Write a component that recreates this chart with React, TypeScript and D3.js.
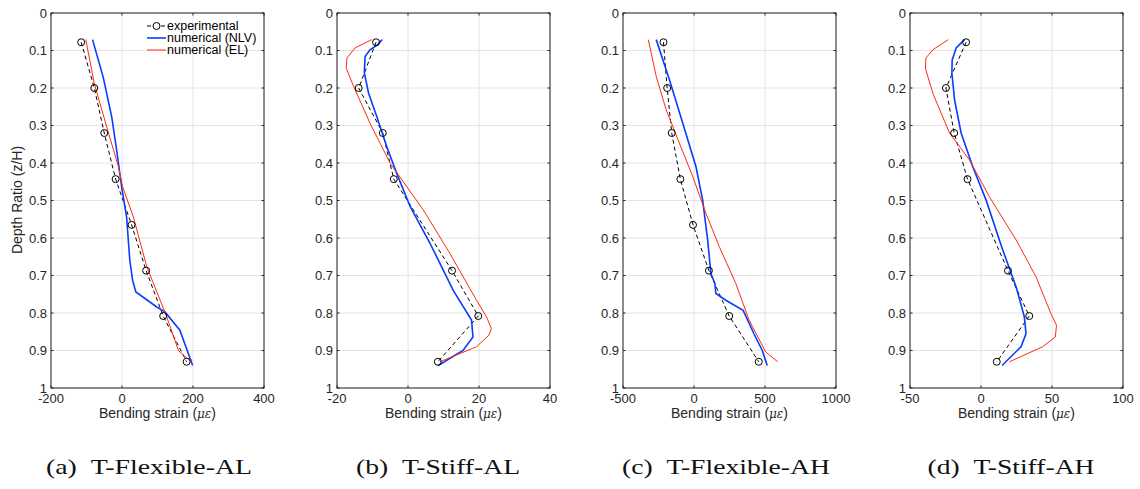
import React from "react";
import * as d3 from "d3";

// depth ratios of the strain gauges
const expDepth = [0.078, 0.2, 0.32, 0.443, 0.565, 0.687, 0.808, 0.93];
const expDepth7 = [0.078, 0.2, 0.32, 0.443, 0.687, 0.808, 0.93];

// (a) T-Flexible-AL
const expA = [-115, -78, -50, -18, 27, 68, 116, 182];
const nlvDepthA = [0.071, 0.171, 0.277, 0.366, 0.464, 0.544, 0.66, 0.713, 0.744, 0.784, 0.797, 0.846, 0.94];
const nlvA = [-83, -53, -29, -15, -1, 13, 22, 30, 39, 98, 121, 163, 199];
const elDepthA = [0.071, 0.188, 0.304, 0.41, 0.464, 0.544, 0.677, 0.81, 0.9, 0.92, 0.926];
const elA = [-102, -78, -43, -10, 2, 32, 70, 126, 159, 182, 198];

// (b) T-Stiff-AL
const expB = [-9.0, -13.9, -7.1, -4.0, 12.4, 19.8, 8.4];
const nlvDepthB = [0.071, 0.085, 0.098, 0.116, 0.16, 0.214, 0.276, 0.356, 0.427, 0.516, 0.614, 0.739, 0.819, 0.864, 0.9, 0.94];
const nlvB = [-7.3, -8.6, -10.7, -12.1, -12.3, -11.1, -8.8, -6.0, -3.2, 0.6, 6.2, 12.7, 17.9, 18.3, 15.5, 8.5];
const elDepthB = [0.071, 0.093, 0.12, 0.147, 0.196, 0.294, 0.401, 0.525, 0.641, 0.766, 0.81, 0.842, 0.859, 0.89, 0.93];
const elB = [-10.2, -14.9, -17.2, -17.4, -15.3, -10.7, -5.0, 4.3, 11.8, 19.3, 22.1, 23.5, 22.8, 19.3, 9.0];

// (c) T-Flexible-AH
const expC = [-215, -189, -157, -96, -7, 105, 248, 456];
const nlvDepthC = [0.071, 0.178, 0.294, 0.41, 0.499, 0.605, 0.695, 0.721, 0.748, 0.766, 0.793, 0.856, 0.9, 0.94];
const nlvC = [-266, -173, -79, 14, 61, 96, 119, 147, 154, 224, 346, 423, 481, 516];
const elDepthC = [0.071, 0.169, 0.258, 0.347, 0.436, 0.534, 0.623, 0.721, 0.819, 0.904, 0.93];
const elC = [-322, -266, -196, -103, -9, 84, 178, 294, 388, 505, 589];

// (d) T-Stiff-AH
const expD = [-10.5, -24.7, -18.9, -9.5, 19, 34, 11.1];
const nlvDepthD = [0.071, 0.093, 0.125, 0.16, 0.232, 0.32, 0.41, 0.499, 0.632, 0.73, 0.81, 0.855, 0.89, 0.94];
const nlvD = [-11.6, -17.5, -20.3, -20.5, -18.6, -14, -5.8, 3.6, 15.3, 24.7, 30.5, 31.7, 28.2, 14.8];
const elDepthD = [0.071, 0.098, 0.12, 0.147, 0.214, 0.32, 0.392, 0.49, 0.605, 0.703, 0.801, 0.833, 0.864, 0.89, 0.93];
const elD = [-23.1, -33.9, -38.8, -39.2, -33.9, -22.2, -8.1, 5.9, 24.7, 38.7, 49.2, 53.2, 52.3, 43.4, 20];

const xDomains = [[-200, 400], [-20, 40], [-500, 1000], [-50, 100]];
const xTicks = [[-200, 0, 200, 400], [-20, 0, 20, 40], [-500, 0, 500, 1000], [-50, 0, 50, 100]];
const yTicks = [0, 0.1, 0.2, 0.3, 0.4, 0.5, 0.6, 0.7, 0.8, 0.9, 1];
const captions = ["(a)\u2002T-Flexible-AL", "(b)\u2002T-Stiff-AL", "(c)\u2002T-Flexible-AH", "(d)\u2002T-Stiff-AH"];
const legendLabels = ["experimental", "numerical (NLV)", "numerical (EL)"];

const panelLeft = [51, 337, 623, 910];
const panelW = 213;
const top = 13;
const bottom = 388;
const captionX = [149, 438, 726, 1011];
const captionW = [206, 164, 208, 167];

const BLUE = "#0a3cff";
const RED = "#ff2a10";
const AXIS = "#262626";
const GRID = "#e4e4e4";

const zip = (xs: number[], ys: number[]) => xs.map((x, i) => [x, ys[i]] as [number, number]);

const panels = [
  { exp: zip(expA, expDepth), nlv: zip(nlvA, nlvDepthA), el: zip(elA, elDepthA) },
  { exp: zip(expB, expDepth7), nlv: zip(nlvB, nlvDepthB), el: zip(elB, elDepthB) },
  { exp: zip(expC, expDepth), nlv: zip(nlvC, nlvDepthC), el: zip(elC, elDepthC) },
  { exp: zip(expD, expDepth7), nlv: zip(nlvD, nlvDepthD), el: zip(elD, elDepthD) },
];

const y = d3.scaleLinear().domain([0, 1]).range([top, bottom]);

function Panel({ idx }: { idx: number }) {
  const x0 = panelLeft[idx];
  const x = d3.scaleLinear().domain(xDomains[idx]).range([x0, x0 + panelW]);
  const line = d3
    .line<[number, number]>()
    .x((d) => x(d[0]))
    .y((d) => y(d[1]));
  const p = panels[idx];
  const font = "'Liberation Sans', Arial, sans-serif";
  return (
    <g>
      {/* grid */}
      {xTicks[idx].map((t) => (
        <line key={"gx" + t} x1={x(t)} x2={x(t)} y1={top} y2={bottom} stroke={GRID} strokeWidth={1} />
      ))}
      {yTicks.map((t) => (
        <line key={"gy" + t} x1={x0} x2={x0 + panelW} y1={y(t)} y2={y(t)} stroke={GRID} strokeWidth={1} />
      ))}
      {/* series */}
      <path d={line(p.exp) || ""} fill="none" stroke="#000" strokeWidth={1} strokeDasharray="4,3" />
      <path d={line(p.nlv) || ""} fill="none" stroke={BLUE} strokeWidth={1.6} />
      <path d={line(p.el) || ""} fill="none" stroke={RED} strokeWidth={1} />
      {p.exp.map((d, i) => (
        <circle key={"c" + i} cx={x(d[0])} cy={y(d[1])} r={3.5} fill="none" stroke="#000" strokeWidth={1} />
      ))}
      {/* box */}
      <rect x={x0} y={top} width={panelW} height={bottom - top} fill="none" stroke={AXIS} strokeWidth={1} />
      {xTicks[idx].map((t) => (
        <g key={"tx" + t}>
          <line x1={x(t)} x2={x(t)} y1={bottom} y2={bottom - 2.5} stroke={AXIS} />
          <line x1={x(t)} x2={x(t)} y1={top} y2={top + 2.5} stroke={AXIS} />
          <text x={x(t)} y={403} textAnchor="middle" fontFamily={font} fontSize={13} fill={AXIS}>
            {t}
          </text>
        </g>
      ))}
      {yTicks.map((t) => (
        <g key={"ty" + t}>
          <line x1={x0} x2={x0 + 2.5} y1={y(t)} y2={y(t)} stroke={AXIS} />
          <line x1={x0 + panelW} x2={x0 + panelW - 2.5} y1={y(t)} y2={y(t)} stroke={AXIS} />
          <text x={x0 - 4} y={y(t)} dy="0.35em" textAnchor="end" fontFamily={font} fontSize={13} fill={AXIS}>
            {t}
          </text>
        </g>
      ))}
      <text x={x0 + panelW / 2} y={418} textAnchor="middle" fontFamily={font} fontSize={14} fill={AXIS}>
        Bending strain (
        <tspan fontFamily="'DejaVu Serif', serif" fontStyle="italic" fontSize={12}>
          με
        </tspan>
        )
      </text>
      <text
        x={captionX[idx]}
        y={474}
        textAnchor="middle"
        fontFamily="'Liberation Serif', 'Times New Roman', serif"
        fontSize={22}
        fill="#111"
        textLength={captionW[idx]}
        lengthAdjust="spacingAndGlyphs"
      >
        {captions[idx]}
      </text>
    </g>
  );
}

function Legend() {
  const lx1 = 147;
  const lx2 = 166;
  const rows = [26, 38, 50];
  const font = "'Liberation Sans', Arial, sans-serif";
  return (
    <g>
      <line x1={lx1} x2={lx2} y1={rows[0]} y2={rows[0]} stroke="#000" strokeDasharray="4,3" />
      <circle cx={(lx1 + lx2) / 2} cy={rows[0]} r={3.5} fill="#fff" stroke="#000" />
      <line x1={lx1} x2={lx2} y1={rows[1]} y2={rows[1]} stroke={BLUE} strokeWidth={1.6} />
      <line x1={lx1} x2={lx2} y1={rows[2]} y2={rows[2]} stroke={RED} />
      {legendLabels.map((l, i) => (
        <text key={l} x={lx2 + 1} y={rows[i]} dy="0.35em" fontFamily={font} fontSize={12.5} fill="#000">
          {l}
        </text>
      ))}
    </g>
  );
}

export default function App() {
  return (
    <svg width={1140} height={489} style={{ position: "absolute", left: 0, top: 0, background: "#fff" }}>
      <rect width={1140} height={489} fill="#fff" />
      {[0, 1, 2, 3].map((i) => (
        <Panel key={i} idx={i} />
      ))}
      <Legend />
      <text
        transform="translate(22,200) rotate(-90)"
        textAnchor="middle"
        fontFamily="'Liberation Sans', Arial, sans-serif"
        fontSize={14}
        fill={AXIS}
      >
        Depth Ratio (z/H)
      </text>
    </svg>
  );
}
